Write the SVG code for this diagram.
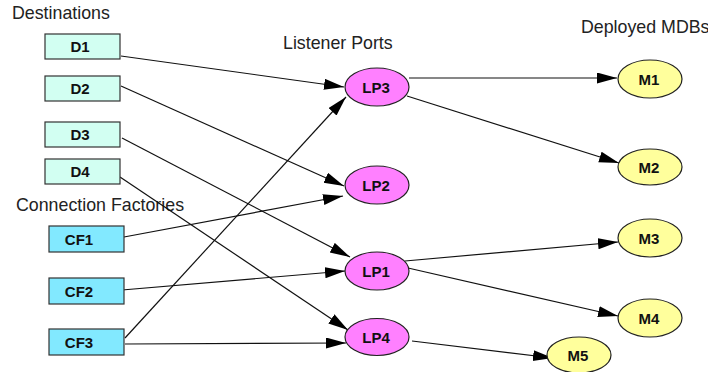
<svg xmlns="http://www.w3.org/2000/svg" width="708" height="372" viewBox="0 0 708 372">
<style>
.hdr{font-family:"Liberation Sans",Arial,sans-serif;font-size:17.8px;fill:#222}
.lbl{font-family:"Liberation Sans",Arial,sans-serif;font-size:15px;font-weight:bold;fill:#111;text-anchor:middle}
.d{fill:#d2fff2;stroke:#333;stroke-width:1.2}
.cf{fill:#82e9ff;stroke:#333;stroke-width:1.2}
.lp{fill:#ff80ff;stroke:#222;stroke-width:1.2}
.m{fill:#ffff9c;stroke:#222;stroke-width:1.2}
.e{stroke:#111;stroke-width:1.2;fill:none;marker-end:url(#ah)}
</style>
<defs>
<marker id="ah" markerUnits="userSpaceOnUse" markerWidth="21" markerHeight="12" refX="20" refY="5.5" orient="auto">
<path d="M0,0 L20,5.5 L0,11 z" fill="#000"/>
</marker>
</defs>
<rect width="708" height="372" fill="#fff"/>
<text class="hdr" x="12" y="19">Destinations</text>
<text class="hdr" x="16" y="211">Connection Factories</text>
<text class="hdr" x="283" y="49">Listener Ports</text>
<text class="hdr" x="581" y="33">Deployed MDBs</text>
<g id="connectors">
<line class="e" x1="121" y1="56" x2="344" y2="87"/>
<line class="e" x1="121" y1="86" x2="344" y2="186"/>
<line class="e" x1="122" y1="138" x2="350" y2="257"/>
<line class="e" x1="120" y1="177" x2="348" y2="330"/>
<line class="e" x1="124" y1="237" x2="343" y2="196"/>
<line class="e" x1="122" y1="290" x2="345" y2="271"/>
<line class="e" x1="125" y1="338" x2="346" y2="97"/>
<line class="e" x1="125" y1="344" x2="346" y2="343"/>
<line class="e" x1="409" y1="78" x2="617" y2="78"/>
<line class="e" x1="407" y1="96" x2="619" y2="163"/>
<line class="e" x1="405" y1="261" x2="618" y2="242"/>
<line class="e" x1="408" y1="268" x2="618" y2="316"/>
<line class="e" x1="412" y1="341" x2="553" y2="358"/>
</g>
<g id="D1"><rect class="d" x="45" y="34" width="75" height="25"/><text class="lbl" x="80" y="52">D1</text></g>
<g id="D2"><rect class="d" x="45" y="76" width="75" height="25"/><text class="lbl" x="80" y="94">D2</text></g>
<g id="D3"><rect class="d" x="45" y="122" width="75" height="25"/><text class="lbl" x="80" y="140">D3</text></g>
<g id="D4"><rect class="d" x="45" y="159" width="75" height="25"/><text class="lbl" x="80" y="177">D4</text></g>
<g id="CF1"><rect class="cf" x="49" y="226" width="75" height="26"/><text class="lbl" x="79" y="244.5">CF1</text></g>
<g id="CF2"><rect class="cf" x="49" y="278" width="75" height="26"/><text class="lbl" x="79" y="296.5">CF2</text></g>
<g id="CF3"><rect class="cf" x="49" y="329" width="75" height="26"/><text class="lbl" x="79" y="347.5">CF3</text></g>
<g id="LP3"><ellipse class="lp" cx="377" cy="87" rx="32" ry="19"/><text class="lbl" x="376" y="92.5">LP3</text></g>
<g id="LP2"><ellipse class="lp" cx="377" cy="185" rx="32" ry="19"/><text class="lbl" x="376" y="190.5">LP2</text></g>
<g id="LP1"><ellipse class="lp" cx="377" cy="271" rx="32" ry="19"/><text class="lbl" x="376" y="276.5">LP1</text></g>
<g id="LP4"><ellipse class="lp" cx="377" cy="337" rx="32" ry="18.5"/><text class="lbl" x="376" y="342.5">LP4</text></g>
<g id="M1"><ellipse class="m" cx="650" cy="79" rx="32" ry="19"/><text class="lbl" x="649" y="84.5">M1</text></g>
<g id="M2"><ellipse class="m" cx="650" cy="167" rx="32" ry="18"/><text class="lbl" x="649" y="172.5">M2</text></g>
<g id="M3"><ellipse class="m" cx="650" cy="238" rx="32" ry="19"/><text class="lbl" x="649" y="243.5">M3</text></g>
<g id="M4"><ellipse class="m" cx="650" cy="318" rx="32" ry="19"/><text class="lbl" x="649" y="323.5">M4</text></g>
<g id="M5"><ellipse class="m" cx="579" cy="355" rx="32" ry="18"/><text class="lbl" x="578" y="360.5">M5</text></g>
</svg>
